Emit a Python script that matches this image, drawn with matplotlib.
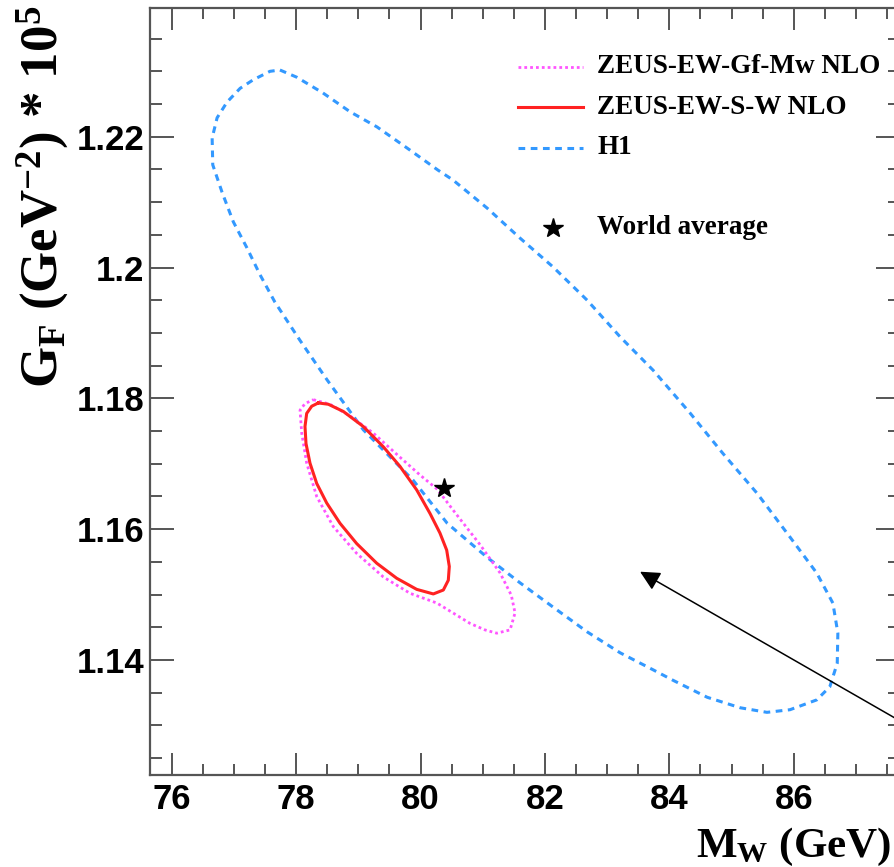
import matplotlib.pyplot as plt
from matplotlib.ticker import MultipleLocator

# contours: M_W (GeV), G_F * 1e5 (GeV^-2)
h1_mw = [77.74, 78.01, 78.43, 78.87, 79.30, 79.78, 80.28, 80.52, 81.07, 81.60,
         82.13, 82.68, 83.21, 83.74, 84.33, 84.86, 85.41, 85.94, 86.37, 86.63,
         86.71, 86.70, 86.58, 86.37, 85.94, 85.57, 85.14, 84.61, 84.06, 83.74,
         83.21, 82.68, 82.13, 81.60, 81.07, 80.43, 79.88, 79.08, 78.50, 78.06,
         77.66, 77.42, 77.21, 76.99, 76.81, 76.66, 76.65, 76.73, 76.89, 77.10,
         77.31, 77.58]
h1_gf = [1.2302, 1.2291, 1.2267, 1.2238, 1.2215, 1.2183, 1.2149, 1.2134, 1.2091, 1.2045,
         1.2001, 1.1950, 1.1894, 1.1843, 1.1778, 1.1716, 1.1655, 1.1588, 1.1533, 1.1487,
         1.1441, 1.1395, 1.1359, 1.1339, 1.1324, 1.1320, 1.1327, 1.1343, 1.1369, 1.1385,
         1.1411, 1.1443, 1.1481, 1.1518, 1.1557, 1.1609, 1.1675, 1.1752, 1.1828, 1.1889,
         1.1947, 1.1989, 1.2030, 1.2070, 1.2115, 1.2157, 1.2198, 1.2229, 1.2253, 1.2274,
         1.2287, 1.2300]

gfmw_mw = [78.277, 78.545, 78.87, 79.24, 79.67, 79.99, 80.27, 80.55, 80.96, 81.28,
           81.46, 81.52, 81.44, 81.225, 81.037, 80.796, 80.265, 79.831, 79.402, 78.974,
           78.598, 78.331, 78.170, 78.090, 78.063, 78.143]
gfmw_gf = [1.1798, 1.1791, 1.1773, 1.1747, 1.1710, 1.1683, 1.1661, 1.1626, 1.1576, 1.1533,
           1.1499, 1.1472, 1.1446, 1.1441, 1.1446, 1.1456, 1.1487, 1.1502, 1.1527, 1.1563,
           1.1604, 1.1650, 1.1701, 1.1747, 1.1782, 1.1792]

sw_mw = [78.357, 78.251, 78.170, 78.143, 78.159, 78.223, 78.331, 78.492, 78.706, 78.974,
         79.296, 79.617, 79.939, 80.206, 80.367, 80.447, 80.463, 80.421, 80.313, 80.153,
         79.939, 79.670, 79.402, 79.080, 78.759, 78.518]
sw_gf = [1.1793, 1.1788, 1.1777, 1.1757, 1.1731, 1.1701, 1.1670, 1.1640, 1.1609, 1.1578,
         1.1548, 1.1525, 1.1508, 1.1501, 1.1507, 1.1522, 1.1543, 1.1568, 1.1594, 1.1624,
         1.1660, 1.1696, 1.1726, 1.1757, 1.1780, 1.1791]

world_mw, world_gf = 80.385, 1.16637
arrow_tip = (83.53, 1.1535)
arrow_tail = (88.0, 1.1291)

labels = ['ZEUS-EW-Gf-Mw NLO', 'ZEUS-EW-S-W NLO', 'H1', 'World average']


def closed(a):
    return list(a) + [a[0]]


plt.rcParams['mathtext.fontset'] = 'custom'
plt.rcParams['mathtext.rm'] = 'Liberation Serif:bold'
plt.rcParams['mathtext.it'] = 'Liberation Serif:bold'
plt.rcParams['mathtext.bf'] = 'Liberation Serif:bold'

fig = plt.figure(figsize=(8.94, 8.67), dpi=100)
ax = fig.add_axes([150/894, 92/867, 750/894, 767/867])

c_mag = '#ff55ff'
c_red = '#ff2222'
c_blue = '#3399ff'
ls_blue = (0, (2.2, 1.8))
ls_mag = (0, (1, 1.1))

ax.plot(closed(h1_mw), closed(h1_gf), color=c_blue, lw=2.2, ls=ls_blue)
ax.plot(closed(gfmw_mw), closed(gfmw_gf), color=c_mag, lw=2.0, ls=ls_mag)
ax.plot(closed(sw_mw), closed(sw_gf), color=c_red, lw=2.2)
ax.plot([world_mw], [world_gf], marker='*', color='black', ms=15, ls='none')

ax.annotate('', xy=arrow_tip, xytext=arrow_tail,
            arrowprops=dict(arrowstyle='-|>', mutation_scale=30, lw=1.1, color='black',
                            shrinkA=0, shrinkB=0),
            annotation_clip=False)

ax.set_xlim(75.651, 87.709)
ax.set_ylim(1.12242, 1.23968)
ax.set_xticks([76, 78, 80, 82, 84, 86])
ax.set_yticks([1.14, 1.16, 1.18, 1.2, 1.22])
ax.set_yticklabels(['1.14', '1.16', '1.18', '1.2', '1.22'])
ax.xaxis.set_minor_locator(MultipleLocator(0.5))
ax.yaxis.set_minor_locator(MultipleLocator(0.005))

grey = '#555555'
for s in ax.spines.values():
    s.set_color(grey)
    s.set_linewidth(1.6)
ax.tick_params(which='both', direction='in', top=True, right=True, color=grey, width=1.4)
ax.tick_params(axis='x', which='major', length=16, pad=6)
ax.tick_params(axis='x', which='minor', length=8)
ax.tick_params(axis='y', which='major', length=17, pad=4)
ax.tick_params(axis='y', which='minor', length=8.5)
for lab in ax.get_xticklabels() + ax.get_yticklabels():
    lab.set_fontfamily('Liberation Sans')
    lab.set_fontweight('bold')
    lab.set_fontsize(25)

# legend drawn by hand (ROOT-style TLegend)
tr = ax.transAxes
ax.plot([0.4907, 0.5773], [0.9231, 0.9231], color=c_mag, lw=2.0, ls=ls_mag, transform=tr)
ax.plot([0.4907, 0.5773], [0.8709, 0.8709], color=c_red, lw=2.2, transform=tr)
ax.plot([0.4907, 0.5773], [0.8175, 0.8175], color=c_blue, lw=2.2, ls=ls_blue, transform=tr)
ax.plot([0.5373], [0.7132], marker='*', color='black', ms=15, transform=tr)
for lab, yy in zip(labels, [0.9231, 0.8709, 0.8175, 0.7132]):
    ax.text(0.596, yy, lab, transform=tr, ha='left', va='center',
            fontfamily='Liberation Serif', fontweight='bold', fontsize=19.5)

fig.text(43/894, 1 - 6/867, r'G$_{F}$ (GeV$^{-2}$) * 10$^{5}$', rotation=90,
         ha='center', va='top', fontfamily='Liberation Serif', fontweight='bold', fontsize=38)
fig.text(891/894, 1 - 857/867, r'M$_{W}$ (GeV)', ha='right', va='baseline',
         fontfamily='Liberation Serif', fontweight='bold', fontsize=31)

fig.savefig('out.png', dpi=100)
